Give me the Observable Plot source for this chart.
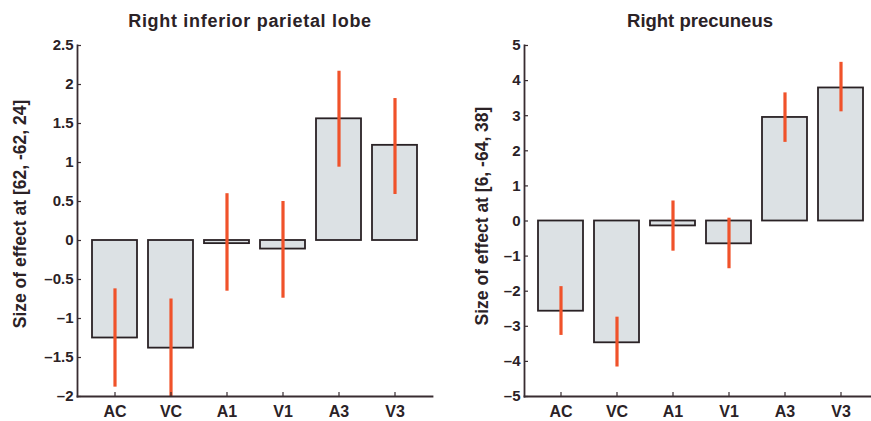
<!DOCTYPE html>
<html>
<head>
<meta charset="utf-8">
<script src="https://cdn.jsdelivr.net/npm/d3@7"></script>
<script src="https://cdn.jsdelivr.net/npm/@observablehq/plot@0.6"></script>
<style>
  html, body { margin: 0; padding: 0; background: #ffffff; }
  #wrap { position: relative; width: 871px; height: 421px; overflow: hidden; background: #fff;
          font-family: "Liberation Sans", Arial, Helvetica, sans-serif; font-weight: bold; color: #2b2226; }
  .panel { position: absolute; top: 0; }
  .title { position: absolute; top: 11px; font-size: 18px; white-space: nowrap; transform: translateX(-50%); line-height: 20px; }
  .ylab { position: absolute; font-size: 17.5px; white-space: nowrap; line-height: 18px;
          transform: translate(-50%, -50%) rotate(-90deg); }
</style>
</head>
<body>
<div id="wrap"></div>
<script>
// ---- data ----
const categories = ["AC", "VC", "A1", "V1", "A3", "V3"];

// Right inferior parietal lobe
const parietalValues = [-1.25, -1.38, -0.04, -0.11, 1.56, 1.22];
const parietalLow    = [-1.88, -2.0, -0.65, -0.74, 0.94, 0.59];
const parietalHigh   = [-0.62, -0.75, 0.60, 0.50, 2.17, 1.82];
const parietalTicks  = [-2, -1.5, -1, -0.5, 0, 0.5, 1, 1.5, 2, 2.5];

// Right precuneus
const precuneusValues = [-2.57, -3.47, -0.14, -0.65, 2.95, 3.79];
const precuneusLow    = [-3.26, -4.16, -0.86, -1.36, 2.24, 3.11];
const precuneusHigh   = [-1.87, -2.74, 0.57, 0.08, 3.65, 4.52];
const precuneusTicks  = [-5, -4, -3, -2, -1, 0, 1, 2, 3, 4, 5];

const titles = ["Right inferior parietal lobe", "Right precuneus"];
const yLabels = ["Size of effect at [62, -62, 24]", "Size of effect at [6, -64, 38]"];

// ---- styling ----
const barFill = "#dce1e4";
const barStroke = "#2a2225";
const errColor = "#f0522a";
const axisColor = "#382c31";
const fmt = d => (d < 0 ? "\u2013" : "") + Math.abs(d);

function makePanel(values, low, high, ticks, domain, opts) {
  const data = categories.map((c, i) => ({cat: c, value: values[i], lo: low[i], hi: high[i]}));
  return Plot.plot({
    width: opts.width,
    height: 421,
    marginLeft: opts.marginLeft,
    marginRight: opts.marginRight,
    marginTop: 45,
    marginBottom: 25,
    style: {fontFamily: "'Liberation Sans', Arial, Helvetica, sans-serif", fontWeight: "bold", color: axisColor, background: "transparent"},
    x: {domain: categories, paddingInner: 0.2, paddingOuter: opts.outer, label: null},
    y: {domain: domain, label: null},
    marks: [
      Plot.barY(data, {x: "cat", y: "value", fill: barFill, stroke: barStroke, strokeWidth: 1.8}),
      Plot.ruleX(data, {x: "cat", y1: "lo", y2: "hi", stroke: errColor, strokeWidth: 3.2}),
      Plot.axisY({ticks: ticks, tickFormat: fmt, tickSize: -4, tickPadding: 8, fontSize: 15, fill: "#2b2226", stroke: axisColor, strokeWidth: 1.2, label: null}),
      Plot.axisX({tickSize: -4, tickPadding: 13, fontSize: 16, fill: "#2b2226", stroke: axisColor, strokeWidth: 1.2, label: null}),
      Plot.frame({anchor: "left", stroke: axisColor, strokeWidth: 1.8}),
      Plot.frame({anchor: "bottom", stroke: axisColor, strokeWidth: 1.8})
    ]
  });
}

const wrap = document.getElementById("wrap");

const left = makePanel(parietalValues, parietalLow, parietalHigh, parietalTicks, [-2, 2.5],
  {width: 435, marginLeft: 77, marginRight: 3, outer: 0.26});
left.classList.add("panel");
left.style.left = "0px";
wrap.appendChild(left);

const right = makePanel(precuneusValues, precuneusLow, precuneusHigh, precuneusTicks, [-5, 5],
  {width: 445, marginLeft: 89, marginRight: 3, outer: 0.22});
right.classList.add("panel");
right.style.left = "435px";
wrap.appendChild(right);

// titles
const t1 = document.createElement("div");
t1.className = "title"; t1.textContent = titles[0];
t1.style.left = "250px"; t1.style.letterSpacing = "0.7px";
wrap.appendChild(t1);
const t2 = document.createElement("div");
t2.className = "title"; t2.textContent = titles[1];
t2.style.left = "700px"; t2.style.fontSize = "18.5px";
wrap.appendChild(t2);

// y labels
const y1 = document.createElement("div");
y1.className = "ylab"; y1.textContent = yLabels[0];
y1.style.left = "20px"; y1.style.top = "214px";
wrap.appendChild(y1);
const y2 = document.createElement("div");
y2.className = "ylab"; y2.textContent = yLabels[1];
y2.style.left = "482px"; y2.style.top = "216px";
wrap.appendChild(y2);
</script>
</body>
</html>
